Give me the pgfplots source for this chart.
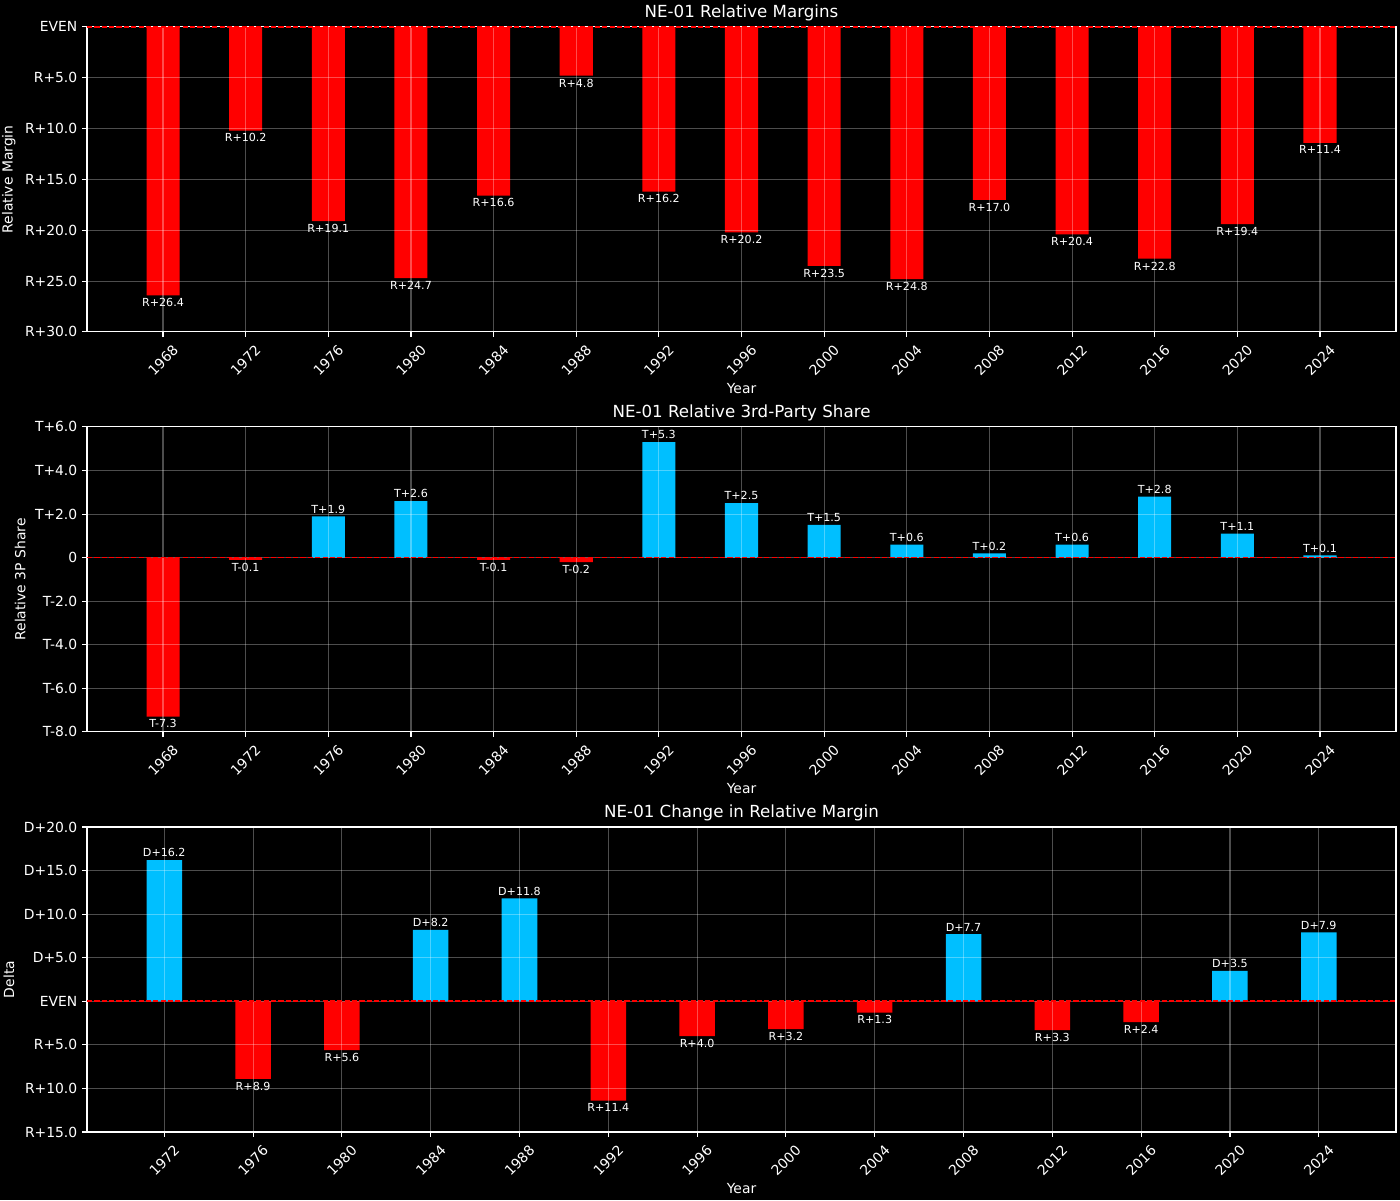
\documentclass[border=0pt]{standalone}
\usepackage{pgfplots}
\pgfplotsset{compat=1.18}
\usepackage{pgfplotstable}
\usepackage{fontspec}
\setmainfont{DejaVu Sans}
\definecolor{dsb}{HTML}{00BFFF}

\pgfplotstableread{
x y lab
1968 -26.4 R+26.4
1972 -10.2 R+10.2
1976 -19.1 R+19.1
1980 -24.7 R+24.7
1984 -16.6 R+16.6
1988 -4.8 R+4.8
1992 -16.2 R+16.2
1996 -20.2 R+20.2
2000 -23.5 R+23.5
2004 -24.8 R+24.8
2008 -17.0 R+17.0
2012 -20.4 R+20.4
2016 -22.8 R+22.8
2020 -19.4 R+19.4
2024 -11.4 R+11.4
}\tabA

\pgfplotstableread{
x y lab
1968 -7.3 T-7.3
1972 -0.1 T-0.1
1984 -0.1 T-0.1
1988 -0.2 T-0.2
}\tabBred

\pgfplotstableread{
x y lab
1976 1.9 T+1.9
1980 2.6 T+2.6
1992 5.3 T+5.3
1996 2.5 T+2.5
2000 1.5 T+1.5
2004 0.6 T+0.6
2008 0.2 T+0.2
2012 0.6 T+0.6
2016 2.8 T+2.8
2020 1.1 T+1.1
2024 0.1 T+0.1
}\tabBblue

\pgfplotstableread{
x y lab
1972 16.2 D+16.2
1984 8.2 D+8.2
1988 11.8 D+11.8
2008 7.7 D+7.7
2020 3.5 D+3.5
2024 7.9 D+7.9
}\tabCblue

\pgfplotstableread{
x y lab
1976 -8.9 R+8.9
1980 -5.6 R+5.6
1992 -11.4 R+11.4
1996 -4.0 R+4.0
2000 -3.2 R+3.2
2004 -1.3 R+1.3
2012 -3.3 R+3.3
2016 -2.4 R+2.4
}\tabCred

\pgfplotsset{
 mystyle/.style={
  scale only axis, width=942.48pt, height=219.6pt,
  set layers, axis on top,
  axis line style={white, line width=0.8pt},
  tick style={white, line width=0.8pt},
  major tick length=3.5pt,
  tick align=outside,
  xtick pos=bottom, ytick pos=left,
  grid=major,
  grid style={white, opacity=0.3, line width=0.8pt},
  ticklabel style={text=white, font=\fontsize{10}{12}\selectfont},
  xticklabel style={rotate=45, anchor=center},
  xticklabel shift=17pt,
  label style={text=white, font=\fontsize{10}{12}\selectfont},
  xlabel style={yshift=3.5pt},
  title style={text=white, font=\fontsize{12}{14.4}\selectfont, yshift=-5.5pt},
  xlabel=Year,
 },
 posbar/.style={ybar, bar width=1.6, bar shift=0pt, fill=#1, draw=none,
  nodes near coords, point meta=explicit symbolic,
  every node near coord/.append style={text=white, font=\fontsize{8}{9.6}\selectfont, inner sep=2pt, anchor=south}},
 negbar/.style={ybar, bar width=1.6, bar shift=0pt, fill=#1, draw=none,
  nodes near coords, point meta=explicit symbolic,
  every node near coord/.append style={text=white, font=\fontsize{8}{9.6}\selectfont, inner sep=2pt, anchor=north}},
 zeroline/.style={color=red, line width=1.2pt, dash pattern=on 3.7pt off 1.6pt, forget plot, on layer=axis foreground},
}

\begin{document}
\begin{tikzpicture}
\fill[black] (0,0) rectangle (1008pt,864pt);

% Chart 1
\begin{axis}[mystyle, at={(62.64pt,625pt)}, anchor=south west,
  title={NE-01 Relative Margins}, ylabel={Relative Margin},
  xmin=1964.32, xmax=2027.68, ymin=-30, ymax=0,
  xtick={1968,1972,...,2024},
  xticklabels={1968,1972,1976,1980,1984,1988,1992,1996,2000,2004,2008,2012,2016,2020,2024},
  ytick={-30,-25,-20,-15,-10,-5,0},
  yticklabels={R+30.0,R+25.0,R+20.0,R+15.0,R+10.0,R+5.0,EVEN}]
\addplot[negbar=red] table[x=x, y=y, meta=lab] {\tabA};
\addplot[zeroline] coordinates {(1964.32,0) (2027.68,0)};
\end{axis}

% Chart 2
\begin{axis}[mystyle, at={(62.64pt,337pt)}, anchor=south west,
  title={NE-01 Relative 3rd-Party Share}, ylabel={Relative 3P Share},
  xmin=1964.32, xmax=2027.68, ymin=-8, ymax=6,
  xtick={1968,1972,...,2024},
  xticklabels={1968,1972,1976,1980,1984,1988,1992,1996,2000,2004,2008,2012,2016,2020,2024},
  ytick={-8,-6,-4,-2,0,2,4,6},
  yticklabels={T-8.0,T-6.0,T-4.0,T-2.0,0,T+2.0,T+4.0,T+6.0}]
\addplot[negbar=red] table[x=x, y=y, meta=lab] {\tabBred};
\addplot[posbar=dsb] table[x=x, y=y, meta=lab] {\tabBblue};
\addplot[zeroline] coordinates {(1964.32,0) (2027.68,0)};
\end{axis}

% Chart 3
\begin{axis}[mystyle, at={(62.64pt,48.96pt)}, anchor=south west,
  title={NE-01 Change in Relative Margin}, ylabel={Delta},
  xmin=1968.52, xmax=2027.48, ymin=-15, ymax=20,
  xtick={1972,1976,...,2024},
  xticklabels={1972,1976,1980,1984,1988,1992,1996,2000,2004,2008,2012,2016,2020,2024},
  ytick={-15,-10,-5,0,5,10,15,20},
  yticklabels={R+15.0,R+10.0,R+5.0,EVEN,D+5.0,D+10.0,D+15.0,D+20.0}]
\addplot[posbar=dsb] table[x=x, y=y, meta=lab] {\tabCblue};
\addplot[negbar=red] table[x=x, y=y, meta=lab] {\tabCred};
\addplot[zeroline] coordinates {(1968.52,0) (2027.48,0)};
\end{axis}
\pgfresetboundingbox
\path[use as bounding box] (0,0) rectangle (1008pt,864pt);
\end{tikzpicture}
\end{document}
